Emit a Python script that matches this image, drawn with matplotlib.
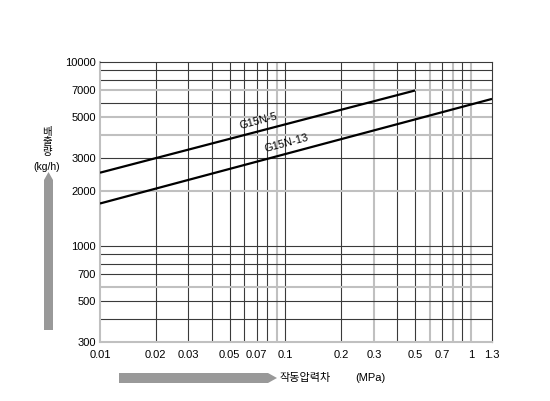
import matplotlib
matplotlib.use("Agg")
import matplotlib.pyplot as plt
from matplotlib.patches import Polygon

plt.rcParams['font.family'] = ['Liberation Sans', 'Noto Sans CJK KR', 'DejaVu Sans']

# Data
series_names = ["G15N-5", "G15N-13"]
g15n5_x = [0.01, 0.5]
g15n5_y = [2500, 7000]
g15n13_x = [0.01, 1.3]
g15n13_y = [1700, 6300]

x_ticks = [0.01, 0.02, 0.03, 0.05, 0.07, 0.1, 0.2, 0.3, 0.5, 0.7, 1, 1.3]
x_tick_labels = ["0.01", "0.02", "0.03", "0.05", "0.07", "0.1", "0.2", "0.3", "0.5", "0.7", "1", "1.3"]
y_ticks = [300, 500, 700, 1000, 2000, 3000, 5000, 7000, 10000]
y_tick_labels = ["300", "500", "700", "1000", "2000", "3000", "5000", "7000", "10000"]

x_grid_dark = [0.02, 0.03, 0.04, 0.05, 0.06, 0.07, 0.08, 0.1, 0.2, 0.4, 0.5, 0.7, 0.9]
x_grid_gray = [0.09, 0.3, 0.6, 0.8, 1.0]
y_grid_dark = [400, 500, 700, 800, 900, 1000, 3000, 6000, 8000, 9000]
y_grid_gray = [600, 2000, 4000, 5000, 7000]

x_label_kr = "작동압력차"
x_label_unit = "(MPa)"
y_label_chars = ["배", "출", "량"]
y_label_unit = "(kg/h)"

W, H = 550, 401
fig = plt.figure(figsize=(W / 100, H / 100), dpi=100)

def px(x, y):
    return (x / W, 1 - y / H)

ax_l, ax_r, ax_t, ax_b = 100, 492, 62, 342
ax = fig.add_axes([ax_l / W, 1 - ax_b / H, (ax_r - ax_l) / W, (ax_b - ax_t) / H])
ax.set_xscale("log")
ax.set_yscale("log")
ax.set_xlim(0.01, 1.3)
ax.set_ylim(300, 10000)

dark = "#3a3a3a"
gray = "#c0c0c0"
for v in x_grid_dark:
    ax.axvline(v, color=dark, lw=0.8, zorder=1)
for v in x_grid_gray:
    ax.axvline(v, color=gray, lw=1.5, zorder=1)
for v in y_grid_dark:
    ax.axhline(v, color=dark, lw=0.8, zorder=1)
for v in y_grid_gray:
    ax.axhline(v, color=gray, lw=1.5, zorder=1)

ax.plot(g15n5_x, g15n5_y, color="black", lw=1.6, zorder=3, solid_capstyle="butt")
ax.plot(g15n13_x, g15n13_y, color="black", lw=1.6, zorder=3, solid_capstyle="butt")

fig.text(*px(258, 121), series_names[0], fontsize=8, rotation=15,
         ha="center", va="center", rotation_mode="anchor", zorder=4)
fig.text(*px(287, 143), series_names[1], fontsize=8, rotation=15,
         ha="center", va="center", rotation_mode="anchor", zorder=4)

ax.set_xticks(x_ticks)
ax.set_xticklabels(x_tick_labels)
ax.set_yticks(y_ticks)
ax.set_yticklabels(y_tick_labels)
ax.minorticks_off()
ax.tick_params(axis="both", length=0, labelsize=8, colors="black")
ax.tick_params(axis="x", pad=6)
ax.tick_params(axis="y", pad=3)

for s in ["left", "bottom"]:
    ax.spines[s].set_color(gray)
    ax.spines[s].set_linewidth(1.5)
for s in ["top", "right"]:
    ax.spines[s].set_color(dark)
    ax.spines[s].set_linewidth(0.8)

arrow_col = "#999999"
v_arrow = [(44, 330), (53, 330), (53, 180), (48.5, 172), (44, 180)]
h_arrow = [(119, 373), (268, 373), (277, 378), (268, 383), (119, 383)]
for poly in (v_arrow, h_arrow):
    fig.add_artist(Polygon([px(x, y) for x, y in poly], closed=True,
                           transform=fig.transFigure, facecolor=arrow_col,
                           edgecolor="none"))

fig.text(*px(280, 378), x_label_kr, fontsize=8, ha="left", va="center",
         family="Noto Sans CJK KR")
fig.text(*px(355, 378), x_label_unit, fontsize=8, ha="left", va="center")

for ch, yy in zip(y_label_chars, [132, 142, 152]):
    fig.text(*px(47, yy), ch, fontsize=7.5, ha="center", va="center",
             family="Noto Sans CJK KR")
fig.text(*px(47, 167), y_label_unit, fontsize=7.5, ha="center", va="center")

fig.savefig("out.png", dpi=100)
